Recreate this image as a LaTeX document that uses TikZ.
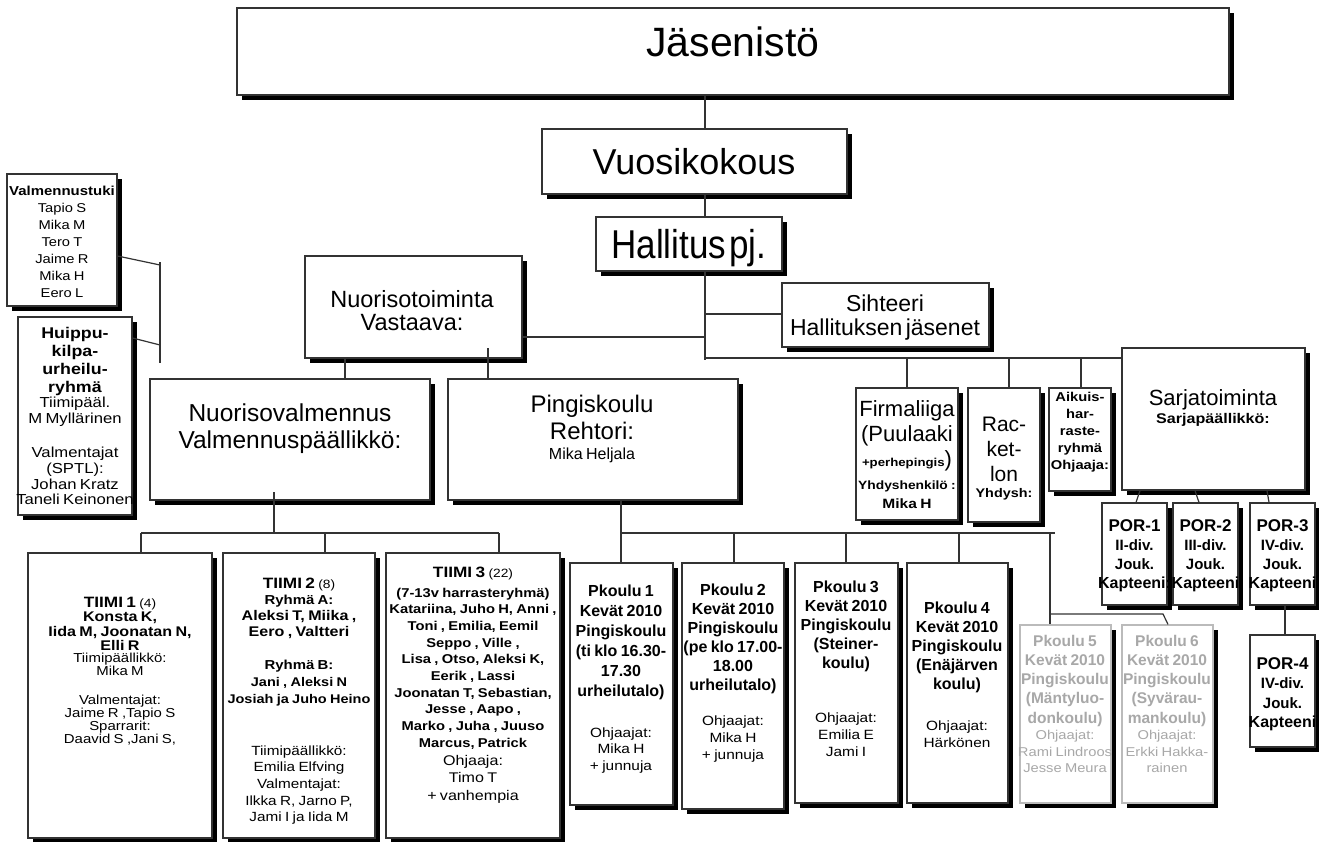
\documentclass[tikz,border=0pt]{standalone}
\usepackage{fontspec}
\setmainfont{Liberation Sans}
\newfontfamily\wfam[FakeStretch=1.15]{Liberation Sans}
\usetikzlibrary{shadows,fit}
\lineskiplimit=-100pt
\lineskip=0pt
\setlength\parindent{0pt}
\newcommand\fz[2]{\fontsize{#1}{#2}\selectfont}
\definecolor{ln}{HTML}{333333}
\definecolor{pale}{HTML}{A8A8A8}
\definecolor{paleline}{HTML}{BBBBBB}
\begin{document}
\begin{tikzpicture}[x=1pt,y=-1pt,
  bx/.style={draw=ln, line width=1.2pt, fill=white, inner sep=0pt,
    drop shadow={shadow xshift=5pt, shadow yshift=-5pt, opacity=1, fill=black}},
  pbx/.style={bx, draw=paleline},
  tx/.style={anchor=base, align=center, text width=240pt, inner sep=0pt},
  ln/.style={draw=ln, line width=1.2pt}]
\fill[white] (0,0) rectangle (1319,841);
\useasboundingbox (0,0) rectangle (1319,841);
% boxes
\node[bx,fit={(237,8)(1229,95)}] (jas) {};
\node[bx,fit={(542,129)(847,194)}] (vuo) {};
\node[bx,fit={(596,217)(782,271)}] (hal) {};
\node[bx,fit={(305,256)(522,358)}] (nuo) {};
\node[bx,fit={(782,283)(989,347)}] (sih) {};
\node[bx,fit={(150,379)(430,500)}] (nval) {};
\node[bx,fit={(448,379)(738,500)}] (ping) {};
\node[bx,fit={(7,174)(117,306)}] (valm) {};
\node[bx,fit={(18,317)(132,515)}] (huip) {};
\node[bx,fit={(856,388)(958,520)}] (firm) {};
\node[bx,fit={(968,388)(1040,522)}] (rack) {};
\node[bx,fit={(1049,388)(1111,491)}] (aik) {};
\node[bx,fit={(1122,348)(1305,490)}] (sarj) {};
\node[bx,fit={(28,553)(212,838)}] (t1) {};
\node[bx,fit={(223,553)(375,838)}] (t2) {};
\node[bx,fit={(386,553)(560,838)}] (t3) {};
\node[bx,fit={(570,563)(673,805)}] (p1) {};
\node[bx,fit={(682,563)(784,809)}] (p2) {};
\node[bx,fit={(795,563)(898,803)}] (p3) {};
\node[bx,fit={(907,563)(1008,803)}] (p4) {};
\node[pbx,fit={(1020,625)(1111,803)}] (p5) {};
\node[pbx,fit={(1122,625)(1213,803)}] (p6) {};
\node[bx,fit={(1102,503)(1167,605)}] (por1) {};
\node[bx,fit={(1173,503)(1238,605)}] (por2) {};
\node[bx,fit={(1250,503)(1315,605)}] (por3) {};
\node[bx,fit={(1250,635)(1315,747)}] (por4) {};
% texts
\node[tx] (jas-t) at (733,56) {\fz{41}{41}Jäsenistö\par};
\node[tx] (vuo-t) at (694,174) {\fz{36}{36}Vuosikokous\par};
\node[tx] (hal-t) at (689,258) {\fz{35}{36}\scalebox{1}[1.15]{Hallitus pj.}\par};
\node[tx] (nuo-t) at (412,307) {\fz{23.5}{23}Nuorisotoiminta\\Vastaava:\par};
\node[tx] (sih-t) at (885,311) {\fz{23}{24}Sihteeri\\Hallituksen jäsenet\par};
\node[tx] (nval-t) at (290,421) {\fz{24.5}{27}Nuorisovalmennus\\Valmennuspäällikkö:\par};
\node[tx] (ping-t) at (592,412) {\fz{24}{27}Pingiskoulu\\Rehtori:\par\fz{16}{20}Mika Heljala\par};
\node[tx] (sarj-t) at (1213,405) {\fz{22}{22}Sarjatoiminta\par\wfam\bfseries\fz{14}{18.5}Sarjapäällikkö:\par};
\node[tx] (firm-t) at (907,416) {\fz{22}{25}Firmaliiga\\(Puulaaki\par
  \wfam\bfseries\fz{11.5}{25}+perhepingis{\normalfont\fz{22}{25})}\par
  \fz{12}{23}Yhdyshenkilö :\par\fz{13.5}{19}Mika H\par};
\node[tx] (rack-t) at (1004,431) {\fz{21}{25}Rac-\\ket-\\lon\par\wfam\bfseries\fz{12.5}{16}Yhdysh:\par};
\node[tx] (aik-t) at (1080,401.5) {\wfam\bfseries\fz{12.8}{17}Aikuis-\\har-\\raste-\\ryhmä\\Ohjaaja:\par};
\node[tx] (valm-t) at (62,195) {\wfam\bfseries\fz{13}{17}Valmennustuki\par
  \mdseries\fz{12.8}{17}Tapio S\\Mika M\\Tero T\\Jaime R\\Mika H\\Eero L\par};
\node[tx] (huip-t) at (75,338) {\wfam\bfseries\fz{15.5}{18}Huippu-\\kilpa-\\urheilu-\\ryhmä\par
  \mdseries\fz{14.5}{15.7}Tiimipääl.\\M Myllärinen\par\vspace{18.7pt}Valmentajat\\(SPTL):\\Johan Kratz\\Taneli Keinonen\par};
\node[tx] (t1-t) at (120,607) {\wfam\bfseries\fz{15}{14.5}TIIMI 1 {\mdseries\fz{12}{14.5}(4)}\par
  \fz{14}{14.5}Konsta K,\\Iida M, Joonatan N,\\Elli R\par
  \mdseries\fz{13}{11.6}Tiimipäällikkö:\\Mika M\par\vspace{17.7pt}Valmentajat:\\Jaime R ,Tapio S\\Sparrarit:\\Daavid S ,Jani S,\par};
\node[tx] (t2-t) at (299,588) {\wfam\bfseries\fz{15}{16}TIIMI 2 {\mdseries\fz{12}{16}(8)}\par
  \fz{13}{16}Ryhmä A:\par\fz{14}{16}Aleksi T, Miika ,\\Eero , Valtteri\par\vspace{16pt}
  \fz{13}{17}Ryhmä B:\\\fz{12.6}{17}Jani , Aleksi N\\Josiah ja Juho Heino\par\vspace{35.3pt}
  \mdseries\fz{13.3}{16.7}Tiimipäällikkö:\\Emilia Elfving\\Valmentajat:\\Ilkka R, Jarno P,\\Jami I ja Iida M\par};
\node[tx] (t3-t) at (473,577) {\wfam\bfseries\fz{15}{20}TIIMI 3 {\mdseries\fz{12}{20}(22)}\par
  \fz{12.8}{20}(7-13v harrasteryhmä)\par
  \fz{12.8}{16.67}Katariina, Juho H, Anni ,\\Toni , Emilia, Eemil\\Seppo , Ville ,\\Lisa , Otso, Aleksi K,\\Eerik , Lassi\\Joonatan T, Sebastian,\\Jesse , Aapo ,\\Marko , Juha , Juuso\\Marcus, Patrick\par
  \mdseries\fz{14}{18}Ohjaaja:\par\fz{14}{17.5}Timo T\\+ vanhempia\par};
\node[tx] (p1-t) at (621,596) {\bfseries\fz{16}{20}Pkoulu 1\\Kevät 2010\\Pingiskoulu\\(ti klo 16.30-\\17.30\\urheilutalo)\par\vspace{24.5pt}
  \wfam\mdseries\fz{13.4}{16.5}Ohjaajat:\\Mika H\\+ junnuja\par};
\node[tx] (p2-t) at (733,595) {\bfseries\fz{16}{19}Pkoulu 2\\Kevät 2010\\Pingiskoulu\\(pe klo  17.00-\\18.00\\urheilutalo)\par\vspace{18pt}
  \wfam\mdseries\fz{13.4}{17}Ohjaajat:\\Mika H\\+ junnuja\par};
\node[tx] (p3-t) at (846,592) {\bfseries\fz{16}{19}Pkoulu 3\\Kevät 2010\\Pingiskoulu\\(Steiner-\\koulu)\par\vspace{37pt}
  \wfam\mdseries\fz{13.4}{17}Ohjaajat:\\Emilia E\\Jami I\par};
\node[tx] (p4-t) at (957,613) {\bfseries\fz{16}{19}Pkoulu 4\\Kevät 2010\\Pingiskoulu\\(Enäjärven\\koulu)\par\vspace{24pt}
  \wfam\mdseries\fz{13.4}{17}Ohjaajat:\\Härkönen\par};
\node[tx,text=pale] (p5-t) at (1065,646) {\bfseries\fz{15.5}{19.3}Pkoulu 5\\Kevät 2010\\Pingiskoulu\\(Mäntyluo-\\donkoulu)\par
  \wfam\mdseries\fz{12.8}{16.5}Ohjaajat:\\Rami Lindroos\\Jesse Meura\par};
\node[tx,text=pale] (p6-t) at (1167,646) {\bfseries\fz{15.5}{19.3}Pkoulu 6\\Kevät 2010\\Pingiskoulu\\(Syvärau-\\mankoulu)\par
  \wfam\mdseries\fz{12.8}{16.5}Ohjaajat:\\Erkki Hakka-\\rainen\par};
\node[tx] (por1-t) at (1134.5,531) {\bfseries\fz{17}{19.2}POR-1\\\fz{15}{19.2}II-div.\\Jouk.\\\fz{16}{19.2}Kapteeni:\par};
\node[tx] (por2-t) at (1205.5,531) {\bfseries\fz{17}{19.2}POR-2\\\fz{15}{19.2}III-div.\\Jouk.\\\fz{16}{19.2}Kapteeni\par};
\node[tx] (por3-t) at (1282.5,531) {\bfseries\fz{17}{19.2}POR-3\\\fz{15}{19.2}IV-div.\\Jouk.\\\fz{16}{19.2}Kapteeni\par};
\node[tx] (por4-t) at (1282.5,669) {\bfseries\fz{17}{19.5}POR-4\\\fz{15}{19.5}IV-div.\\Jouk.\\\fz{16}{19.5}Kapteeni\par};
% connectors
\draw[ln] (705,0 |- jas.south) -- (705,0 |- vuo.north);
\draw[ln] (705,0 |- vuo.south) -- (705,0 |- hal.north);
\coordinate (trunk) at (705,360);
\draw[ln] (705,0 |- hal.south) -- (trunk);
\draw[ln] (nuo.east |- 0,337) -- (705,337);
\draw[ln] (705,314) -- (sih.west |- 0,314);
\draw[ln] (705,358) -- (sarj.west |- 0,358);
\draw[ln] (907,358) -- (907,0 |- firm.north);
\draw[ln] (1009,358) -- (1009,0 |- rack.north);
\draw[ln] (1081,358) -- (1081,0 |- aik.north);
\draw[ln] (345,0 |- nuo.south) -- (345,0 |- nval.north);
\draw[ln] (488,348) -- (488,0 |- ping.north);
\coordinate (side) at (160,262);
\draw[ln] (valm.east |- 0,256) -- (160,265);
\draw[ln] (huip.east |- 0,338) -- (160,345);
\draw[ln] (side) -- (160,363);
\draw[ln] (1140,0 |- sarj.south) -- (1136,0 |- por1.north);
\draw[ln] (1195,0 |- sarj.south) -- (1199,0 |- por2.north);
\draw[ln] (1267,0 |- sarj.south) -- (1269,0 |- por3.north);
\draw[ln] (1285,0 |- por3.south) -- (1285,0 |- por4.north);
\coordinate (tbar) at (274,533);
\draw[ln] (274,492) -- (tbar);
\draw[ln] (141,533) -- (499,533);
\draw[ln] (141,533) -- (141,0 |- t1.north);
\draw[ln] (325,533) -- (325,0 |- t2.north);
\draw[ln] (499,533) -- (499,0 |- t3.north);
\coordinate (pbar) at (621,533);
\draw[ln] (621,0 |- ping.south) -- (pbar);
\draw[ln] (pbar) -- (1055,533);
\draw[ln] (pbar) -- (621,0 |- p1.north);
\draw[ln] (734,533) -- (734,0 |- p2.north);
\draw[ln] (846,533) -- (846,0 |- p3.north);
\draw[ln] (959,533) -- (959,0 |- p4.north);
\draw[ln] (1050,533) -- (1050,0 |- p5.north);
\draw[ln] (1050,614) -- (1163,614) -- (1168,0 |- p6.north);
\end{tikzpicture}
\end{document}
